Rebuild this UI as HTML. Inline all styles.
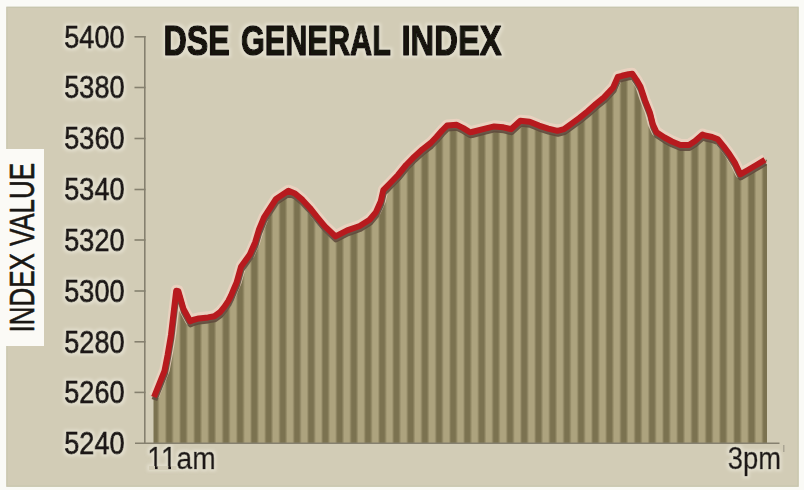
<!DOCTYPE html>
<html><head><meta charset="utf-8"><title>DSE General Index</title>
<style>
html,body{margin:0;padding:0;background:#fafaf6;}
body{width:804px;height:490px;overflow:hidden;}
svg{display:block;}
text{font-family:"Liberation Sans",Arial,sans-serif;}
</style></head><body>
<svg width="804" height="490" viewBox="0 0 804 490">
<defs>
<linearGradient id="sg" x1="0" y1="0" x2="1" y2="0">
<stop offset="0" stop-color="#7b7250"/>
<stop offset="0.32" stop-color="#7b7250"/>
<stop offset="0.50" stop-color="#ada37e"/>
<stop offset="0.86" stop-color="#ada37e"/>
<stop offset="1" stop-color="#7b7250"/>
</linearGradient>
<pattern id="stripes" patternUnits="userSpaceOnUse" x="166.8" y="0" width="14.205" height="490">
<rect x="0" y="0" width="14.205" height="490" fill="url(#sg)"/>
</pattern>
<mask id="m11" maskUnits="userSpaceOnUse" x="0" y="0" width="804" height="490">
<rect x="0" y="0" width="804" height="490" fill="#fff"/>
<rect x="149" y="466" width="6" height="4" fill="#000"/>
<rect x="157.6" y="466" width="10.7" height="4" fill="#000"/>
<rect x="171" y="466" width="5.5" height="4" fill="#000"/>
</mask>
<filter id="glow" x="-10%" y="-30%" width="120%" height="160%">
<feMorphology in="SourceAlpha" operator="dilate" radius="2" result="d"/>
<feGaussianBlur in="d" stdDeviation="1.5" result="b"/>
<feFlood flood-color="#e6e2d2" flood-opacity="0.8"/>
<feComposite in2="b" operator="in" result="g"/>
<feMerge><feMergeNode in="g"/><feMergeNode in="SourceGraphic"/></feMerge>
</filter>
</defs>
<rect x="0" y="0" width="804" height="490" fill="#fafaf6"/>
<rect x="6.3" y="6.7" width="792.4" height="480.1" fill="#d2ccb6"/>
<rect x="7" y="7.4" width="791" height="478.7" fill="none" stroke="#c8c6ae" stroke-width="1.2"/>
<rect x="0" y="149" width="44" height="197" fill="#fbfaf6"/>
<text x="163.50" y="55.40" filter="url(#glow)" font-size="42.28" textLength="66.28" lengthAdjust="spacingAndGlyphs" font-weight="bold" stroke="#15120f" stroke-width="1.6" stroke-linejoin="round" fill="#15120f">DSE</text>
<text x="241.00" y="55.40" filter="url(#glow)" font-size="42.28" textLength="150.03" lengthAdjust="spacingAndGlyphs" font-weight="bold" stroke="#15120f" stroke-width="1.6" stroke-linejoin="round" fill="#15120f">GENERAL</text>
<text x="401.50" y="55.40" filter="url(#glow)" font-size="42.28" textLength="100.10" lengthAdjust="spacingAndGlyphs" font-weight="bold" stroke="#15120f" stroke-width="1.6" stroke-linejoin="round" fill="#15120f">INDEX</text>
<text x="124.50" y="47.80" text-anchor="end" filter="url(#glow)" font-size="30.70" textLength="60.23" lengthAdjust="spacingAndGlyphs" stroke="#1c1915" stroke-width="1.0" stroke-linejoin="round" fill="#1c1915">5400</text>
<text x="124.50" y="98.00" text-anchor="end" filter="url(#glow)" font-size="30.70" textLength="60.23" lengthAdjust="spacingAndGlyphs" stroke="#1c1915" stroke-width="1.0" stroke-linejoin="round" fill="#1c1915">5380</text>
<text x="124.50" y="149.00" text-anchor="end" filter="url(#glow)" font-size="30.70" textLength="60.23" lengthAdjust="spacingAndGlyphs" stroke="#1c1915" stroke-width="1.0" stroke-linejoin="round" fill="#1c1915">5360</text>
<text x="124.50" y="200.00" text-anchor="end" filter="url(#glow)" font-size="30.70" textLength="60.23" lengthAdjust="spacingAndGlyphs" stroke="#1c1915" stroke-width="1.0" stroke-linejoin="round" fill="#1c1915">5340</text>
<text x="124.50" y="251.00" text-anchor="end" filter="url(#glow)" font-size="30.70" textLength="60.23" lengthAdjust="spacingAndGlyphs" stroke="#1c1915" stroke-width="1.0" stroke-linejoin="round" fill="#1c1915">5320</text>
<text x="124.50" y="302.00" text-anchor="end" filter="url(#glow)" font-size="30.70" textLength="60.23" lengthAdjust="spacingAndGlyphs" stroke="#1c1915" stroke-width="1.0" stroke-linejoin="round" fill="#1c1915">5300</text>
<text x="124.50" y="352.80" text-anchor="end" filter="url(#glow)" font-size="30.70" textLength="60.23" lengthAdjust="spacingAndGlyphs" stroke="#1c1915" stroke-width="1.0" stroke-linejoin="round" fill="#1c1915">5280</text>
<text x="124.50" y="403.40" text-anchor="end" filter="url(#glow)" font-size="30.70" textLength="60.23" lengthAdjust="spacingAndGlyphs" stroke="#1c1915" stroke-width="1.0" stroke-linejoin="round" fill="#1c1915">5260</text>
<text x="124.50" y="454.20" text-anchor="end" filter="url(#glow)" font-size="30.70" textLength="60.23" lengthAdjust="spacingAndGlyphs" stroke="#1c1915" stroke-width="1.0" stroke-linejoin="round" fill="#1c1915">5240</text>
<text x="147.30" y="469.30" mask="url(#m11)" filter="url(#glow)" font-size="31.00" textLength="68.40" lengthAdjust="spacingAndGlyphs" stroke="#1c1915" stroke-width="0.6" stroke-linejoin="round" fill="#1c1915">11am</text>
<text x="727.80" y="469.30" filter="url(#glow)" font-size="31.00" textLength="53.26" lengthAdjust="spacingAndGlyphs" stroke="#1c1915" stroke-width="0.6" stroke-linejoin="round" fill="#1c1915">3pm</text>
<text transform="translate(33.50,332.50) rotate(-90)" font-size="35.50" textLength="169.57" lengthAdjust="spacingAndGlyphs" stroke="#1a1714" stroke-width="0.6" stroke-linejoin="round" fill="#1a1714">INDEX VALUE</text>
<polygon points="153.5,443.5 153.5,397 154,397 164.5,370.8 167.7,354.5 171,334.9 176.2,290.8 178.4,291.3 183.5,309 190.2,321.3 193,320 198.8,318.4 208,317.4 214.4,316.3 219.9,312.3 224.5,306.7 228.2,301.1 231,295.6 233.7,289.2 236.5,282.8 241,266.7 249.8,254.5 255.2,242.2 258.8,230 264,217.4 276,199 288.4,190.8 295,193.5 302.5,199.9 309.9,208 317.4,217.3 324.9,226.3 335.5,236.4 347.2,230.4 359.7,226 369.6,219.8 375.8,212.4 380.8,201.2 383.3,190.2 389.8,183.5 398,175 406.1,165 414.3,156.7 422.5,149.3 430.7,143 436.4,137 442.1,130.5 447,125.6 456.8,124.8 463.3,128.1 470,132.2 471.8,132 483,129.2 494.2,126.4 503.5,127.3 511,129.2 520.3,120.8 529.6,121.7 539,125.6 548.3,128.6 557.5,130.8 564,129.2 571.3,123.8 579.5,117.9 587.7,111.2 595.8,104 604,97.4 613.2,87.5 617.8,77 622,75.8 628.6,74.3 632.3,73.8 636.5,79.9 640.4,86.5 644.9,100 649.8,112.3 652.8,124.3 656.5,132.3 664.5,137.5 671.9,141.5 680.4,145 689,145 695.1,141 702.5,134.6 705,135.5 712.1,137 717.9,139.3 723.6,146.4 729.3,154 735,162.9 740.3,174.3 747.9,170 756.4,165 765,159.8 767,159.8 767,443.5" fill="url(#stripes)"/>
<polyline points="154,397 164.5,370.8 167.7,354.5 171,334.9 176.2,290.8 178.4,291.3 183.5,309 190.2,321.3 193,320 198.8,318.4 208,317.4 214.4,316.3 219.9,312.3 224.5,306.7 228.2,301.1 231,295.6 233.7,289.2 236.5,282.8 241,266.7 249.8,254.5 255.2,242.2 258.8,230 264,217.4 276,199 288.4,190.8 295,193.5 302.5,199.9 309.9,208 317.4,217.3 324.9,226.3 335.5,236.4 347.2,230.4 359.7,226 369.6,219.8 375.8,212.4 380.8,201.2 383.3,190.2 389.8,183.5 398,175 406.1,165 414.3,156.7 422.5,149.3 430.7,143 436.4,137 442.1,130.5 447,125.6 456.8,124.8 463.3,128.1 470,132.2 471.8,132 483,129.2 494.2,126.4 503.5,127.3 511,129.2 520.3,120.8 529.6,121.7 539,125.6 548.3,128.6 557.5,130.8 564,129.2 571.3,123.8 579.5,117.9 587.7,111.2 595.8,104 604,97.4 613.2,87.5 617.8,77 622,75.8 628.6,74.3 632.3,73.8 636.5,79.9 640.4,86.5 644.9,100 649.8,112.3 652.8,124.3 656.5,132.3 664.5,137.5 671.9,141.5 680.4,145 689,145 695.1,141 702.5,134.6 705,135.5 712.1,137 717.9,139.3 723.6,146.4 729.3,154 735,162.9 740.3,174.3 747.9,170 756.4,165 765,159.8" fill="none" stroke="#efd3c3" stroke-width="10.4" stroke-linejoin="round" transform="translate(0,-0.9)" opacity="0.8"/>
<polyline points="154,397 164.5,370.8 167.7,354.5 171,334.9 176.2,290.8 178.4,291.3 183.5,309 190.2,321.3 193,320 198.8,318.4 208,317.4 214.4,316.3 219.9,312.3 224.5,306.7 228.2,301.1 231,295.6 233.7,289.2 236.5,282.8 241,266.7 249.8,254.5 255.2,242.2 258.8,230 264,217.4 276,199 288.4,190.8 295,193.5 302.5,199.9 309.9,208 317.4,217.3 324.9,226.3 335.5,236.4 347.2,230.4 359.7,226 369.6,219.8 375.8,212.4 380.8,201.2 383.3,190.2 389.8,183.5 398,175 406.1,165 414.3,156.7 422.5,149.3 430.7,143 436.4,137 442.1,130.5 447,125.6 456.8,124.8 463.3,128.1 470,132.2 471.8,132 483,129.2 494.2,126.4 503.5,127.3 511,129.2 520.3,120.8 529.6,121.7 539,125.6 548.3,128.6 557.5,130.8 564,129.2 571.3,123.8 579.5,117.9 587.7,111.2 595.8,104 604,97.4 613.2,87.5 617.8,77 622,75.8 628.6,74.3 632.3,73.8 636.5,79.9 640.4,86.5 644.9,100 649.8,112.3 652.8,124.3 656.5,132.3 664.5,137.5 671.9,141.5 680.4,145 689,145 695.1,141 702.5,134.6 705,135.5 712.1,137 717.9,139.3 723.6,146.4 729.3,154 735,162.9 740.3,174.3 747.9,170 756.4,165 765,159.8" fill="none" stroke="#5e4a3c" stroke-width="6" stroke-linejoin="round" transform="translate(0.4,3.0)" opacity="0.9"/>
<polyline points="154,397 164.5,370.8 167.7,354.5 171,334.9 176.2,290.8 178.4,291.3 183.5,309 190.2,321.3 193,320 198.8,318.4 208,317.4 214.4,316.3 219.9,312.3 224.5,306.7 228.2,301.1 231,295.6 233.7,289.2 236.5,282.8 241,266.7 249.8,254.5 255.2,242.2 258.8,230 264,217.4 276,199 288.4,190.8 295,193.5 302.5,199.9 309.9,208 317.4,217.3 324.9,226.3 335.5,236.4 347.2,230.4 359.7,226 369.6,219.8 375.8,212.4 380.8,201.2 383.3,190.2 389.8,183.5 398,175 406.1,165 414.3,156.7 422.5,149.3 430.7,143 436.4,137 442.1,130.5 447,125.6 456.8,124.8 463.3,128.1 470,132.2 471.8,132 483,129.2 494.2,126.4 503.5,127.3 511,129.2 520.3,120.8 529.6,121.7 539,125.6 548.3,128.6 557.5,130.8 564,129.2 571.3,123.8 579.5,117.9 587.7,111.2 595.8,104 604,97.4 613.2,87.5 617.8,77 622,75.8 628.6,74.3 632.3,73.8 636.5,79.9 640.4,86.5 644.9,100 649.8,112.3 652.8,124.3 656.5,132.3 664.5,137.5 671.9,141.5 680.4,145 689,145 695.1,141 702.5,134.6 705,135.5 712.1,137 717.9,139.3 723.6,146.4 729.3,154 735,162.9 740.3,174.3 747.9,170 756.4,165 765,159.8" fill="none" stroke="#b71a1e" stroke-width="6.0" stroke-linejoin="round" stroke-linecap="butt"/>
<g stroke="#85806f" stroke-width="1.6">
<line x1="144.8" y1="36" x2="144.8" y2="444"/>
<line x1="134.5" y1="36.8" x2="145.5" y2="36.8"/>
<line x1="134.5" y1="87.5" x2="145.5" y2="87.5"/>
<line x1="134.5" y1="138.5" x2="145.5" y2="138.5"/>
<line x1="134.5" y1="189.5" x2="145.5" y2="189.5"/>
<line x1="134.5" y1="240" x2="145.5" y2="240"/>
<line x1="134.5" y1="291" x2="145.5" y2="291"/>
<line x1="134.5" y1="341.8" x2="145.5" y2="341.8"/>
<line x1="134.5" y1="392.4" x2="145.5" y2="392.4"/>
<line x1="135" y1="443.3" x2="779.5" y2="443.3"/>
</g>
<line x1="783.8" y1="445" x2="783.8" y2="452" stroke="#a09c8c" stroke-width="1.2"/>
</svg>
</body></html>
